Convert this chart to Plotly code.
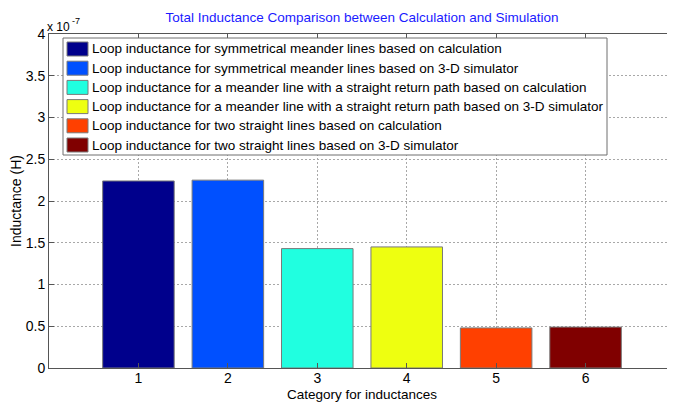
import plotly.graph_objects as go

categories = [1, 2, 3, 4, 5, 6]
inductance_H = [2.24e-7, 2.25e-7, 1.43e-7, 1.45e-7, 0.48e-7, 0.49e-7]
series_names = [
    "Loop inductance for symmetrical meander lines based on calculation",
    "Loop inductance for symmetrical meander lines based on 3-D simulator",
    "Loop inductance for a meander line with a straight return path based on calculation",
    "Loop inductance for a meander line with a straight return path based on 3-D simulator",
    "Loop inductance for two straight lines based on calculation",
    "Loop inductance for two straight lines based on 3-D simulator",
]
bar_colors = ["#00008C", "#0050FF", "#20FFE0", "#EEFF10", "#FF4000", "#800000"]
ytick_vals = [0, 0.5e-7, 1e-7, 1.5e-7, 2e-7, 2.5e-7, 3e-7, 3.5e-7, 4e-7]
ytick_text = ["0", "0.5", "1", "1.5", "2", "2.5", "3", "3.5", "4"]
exponent_base = "x 10"
exponent_power = "-7"

FONT = "Liberation Sans, Arial, sans-serif"

# Page body has an 8px margin, so the figure is sized to fill the window from there.
W, H = 667, 395
OFF = 8
PL, PT, PR, PB = 49, 34, 675, 368  # plot area in window pixels


def px(X):
    return (X - PL) / (PR - PL)


def py(Y):
    return (PB - Y) / (PB - PT)


fig = go.Figure()
for c, v, n, col in zip(categories, inductance_H, series_names, bar_colors):
    fig.add_trace(go.Bar(
        x=[c], y=[v], name=n, width=0.8, showlegend=False,
        marker=dict(color=col, line=dict(color="#7a7a7a", width=1)),
    ))

fig.update_layout(
    width=W, height=H,
    margin=dict(l=PL - OFF, r=W - (PR - OFF), t=PT - OFF, b=H - (PB - OFF), pad=0),
    paper_bgcolor="white", plot_bgcolor="white",
    barmode="overlay",
    font=dict(family=FONT, size=14, color="black"),
    title=dict(
        text="Total Inductance Comparison between Calculation and Simulation",
        font=dict(family=FONT, size=13.5, color="#1a1aff"),
        x=0.5, xref="paper", xanchor="center", y=1 - (17 - OFF) / H, yanchor="middle",
    ),
    showlegend=False,
    xaxis=dict(
        range=[0, 7], tickvals=categories, ticktext=[str(c) for c in categories],
        showgrid=True, gridcolor="#a8a8a8", griddash="2px,2px", gridwidth=1,
        showline=True, linecolor="#555555", linewidth=1, mirror="ticks",
        ticks="inside", ticklen=5, tickcolor="#555555",
        zeroline=False, automargin=False, ticklabelstandoff=-3,
        tickfont=dict(size=14),
    ),
    yaxis=dict(
        range=[0, 4e-7], tickvals=ytick_vals, ticktext=ytick_text,
        showgrid=True, gridcolor="#a8a8a8", griddash="2px,2px", gridwidth=1,
        showline=True, linecolor="#555555", linewidth=1, mirror=False,
        ticks="inside", ticklen=5, tickcolor="#555555",
        zeroline=False, automargin=False,
        title=dict(text="Inductance (H)", font=dict(size=14), standoff=6),
        tickfont=dict(size=14),
    ),
)

# x-axis title
fig.add_annotation(
    text="Category for inductances", xref="paper", yref="paper",
    x=0.5, y=py(394.5), xanchor="center", yanchor="middle", showarrow=False,
    font=dict(family=FONT, size=13.5, color="black"),
)

# exponent label (base and power as separate texts for stable placement)
fig.add_annotation(
    text=exponent_base, xref="paper", yref="paper",
    x=px(45), y=py(27.5), xanchor="left", yanchor="middle", showarrow=False,
    font=dict(family=FONT, size=12, color="black"),
)
fig.add_annotation(
    text=exponent_power, xref="paper", yref="paper",
    x=px(70), y=py(21), xanchor="left", yanchor="middle", showarrow=False,
    font=dict(family=FONT, size=9, color="black"),
)

# legend box (MATLAB style)
LX0, LX1, LY0, LY1 = 63, 607, 38, 155
fig.add_shape(type="rect", xref="paper", yref="paper",
              x0=px(LX0), x1=px(LX1), y0=py(LY1), y1=py(LY0),
              fillcolor="white", line=dict(color="#6e6e6e", width=1), layer="above")
row0, rowh = 49, 19.2
for i, (n, col) in enumerate(zip(series_names, bar_colors)):
    yc = row0 + i * rowh
    fig.add_shape(type="rect", xref="paper", yref="paper",
                  x0=px(67), x1=px(88), y0=py(yc + 7), y1=py(yc - 7),
                  fillcolor=col, line=dict(color="#7a7a7a", width=1), layer="above")
    fig.add_annotation(text=n, xref="paper", yref="paper",
                       x=px(90), y=py(yc), xanchor="left", yanchor="middle",
                       showarrow=False,
                       font=dict(family=FONT, size=13.5, color="black"))

fig.write_html("out.html")
